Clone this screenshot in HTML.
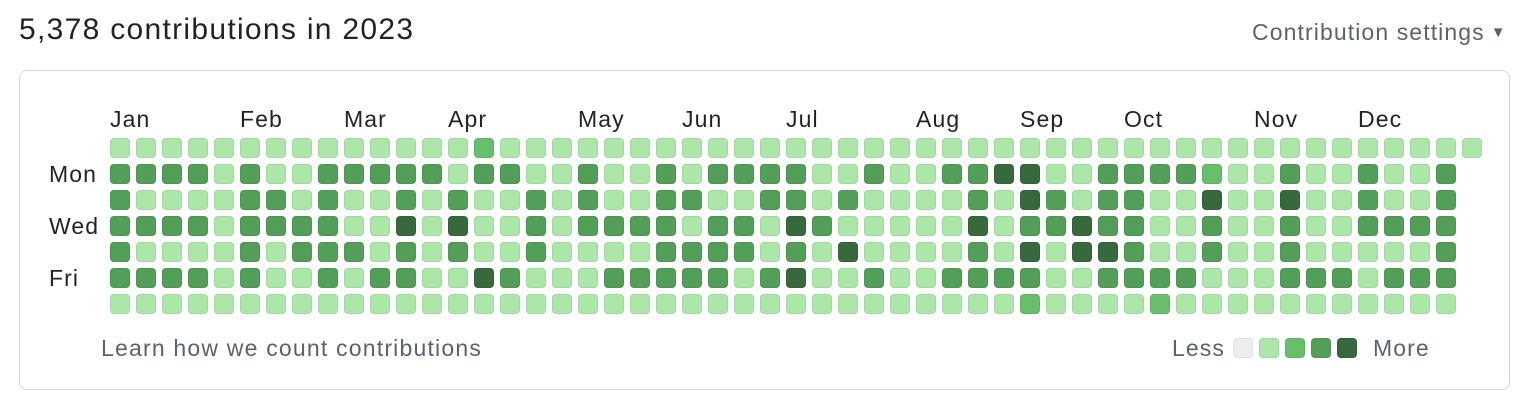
<!DOCTYPE html>
<html><head><meta charset="utf-8">
<style>
body{margin:0;width:1538px;height:418px;background:#fff;font-family:"Liberation Sans",sans-serif;position:relative;overflow:hidden}
.t{position:absolute;white-space:nowrap;letter-spacing:1.1px}
#box{position:absolute;left:19px;top:70px;width:1489px;height:318px;border:1.5px solid #d0d7de;border-radius:8px}
.cell{position:absolute;width:18px;height:18px;border-radius:4px;border:1px solid rgba(0,0,0,0.06)}
</style></head><body>
<div class="t" style="left:19px;top:13px;font-size:30px;letter-spacing:1.3px;color:#1f2328">5,378 contributions in 2023</div>
<div class="t" style="left:1252px;top:19px;font-size:23px;color:#59636e">Contribution settings<span style="font-size:15px;position:relative;top:-3px;margin-left:6px">▼</span></div>
<div id="box"></div>
<div id="g"></div>
<div class="t" style="left:101px;top:335px;font-size:23px;letter-spacing:1.2px;color:#59636e">Learn how we count contributions</div>
<div class="t" style="left:1172px;top:335px;font-size:23px;color:#59636e">Less</div>
<div class="t" style="left:1373px;top:335px;font-size:23px;color:#59636e">More</div>
<script>
const months=["Jan","Feb","Mar","Apr","May","Jun","Jul","Aug","Sep","Oct","Nov","Dec"];
const monthCols=[0,5,9,13,18,22,26,31,35,39,44,48];
const days=["Mon","Wed","Fri"];
const dayRows=[1,3,5];
const rowsData=[
"1111111111"+"1111211111"+"1111111111"+"1111111111"+"1111111111111",
"3333131133"+"3331331131"+"1313333113"+"1133441133"+"332113113113",
"3111133131"+"1313113131"+"1331133131"+"1113143133"+"114114113113",
"3333133331"+"1414113133"+"3313314311"+"1114133433"+"113113113333",
"3111131333"+"1313113111"+"1333313141"+"1113141443"+"113113111113",
"3333131131"+"3311431113"+"3333134113"+"1133331133"+"331113331333",
"1111111111"+"1111111111"+"1111111111"+"1111121111"+"211111111111"
];
const colors=["#ebedf0","#ace6a9","#68bf6b","#539e58","#37693d"];
const X0=110,Y0=138,STEP=26;
const colX=c=>X0+c*STEP, rowY=r=>Y0+r*STEP;
const g=document.getElementById('g');
rowsData.forEach((row,r)=>{[...row].forEach((ch,c)=>{
 const d=document.createElement('div');d.className='cell';
 
 
 d.style.left=colX(c)+'px';d.style.top=rowY(r)+'px';d.style.background=colors[+ch];
 g.appendChild(d);});});
months.forEach((m,i)=>{const d=document.createElement('div');d.className='t';
 
 
 d.textContent=m;d.style.left=colX(monthCols[i])+'px';d.style.top='106px';d.style.fontSize='23px';d.style.color='#1f2328';g.appendChild(d);});
days.forEach((m,i)=>{const d=document.createElement('div');d.className='t';
 
 
 d.textContent=m;d.style.left='49px';d.style.top=(rowY(dayRows[i])-3)+'px';d.style.fontSize='23px';d.style.color='#1f2328';g.appendChild(d);});
colors.forEach((c,i)=>{const d=document.createElement('div');d.className='cell';
 
 
 d.style.left=(1233+i*26)+'px';d.style.top='338px';d.style.background=c;g.appendChild(d);});
</script>
</body></html>
